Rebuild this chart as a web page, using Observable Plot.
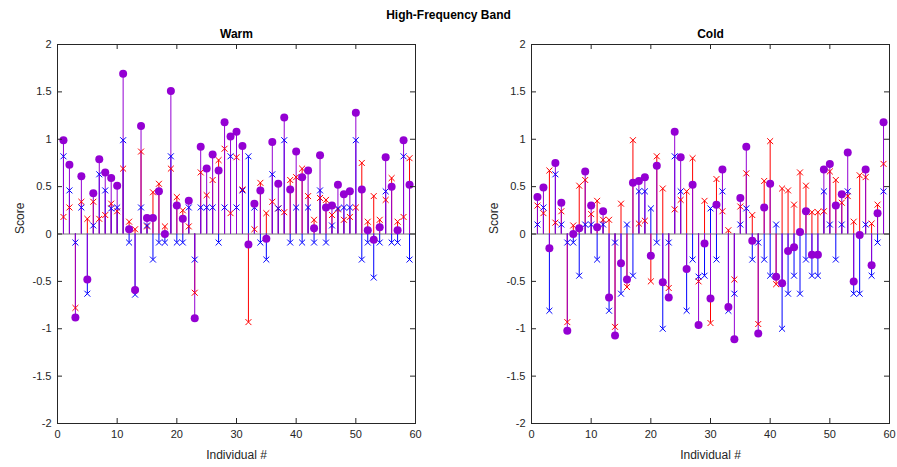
<!DOCTYPE html>
<html><head><meta charset="utf-8">
<script src="https://cdn.jsdelivr.net/npm/d3@7"></script>
<script src="https://cdn.jsdelivr.net/npm/@observablehq/plot@0.6"></script>
<style>
body{margin:0;background:#fff;font-family:"Liberation Sans",Arial,sans-serif;}
#fig{position:relative;width:897px;height:467px;overflow:hidden;}
#title{position:absolute;top:8px;left:0;width:897px;text-align:center;font-weight:bold;font-size:12px;color:#000;line-height:14px;}
#left{position:absolute;left:0;top:0;}
#right{position:absolute;left:448px;top:0;}
</style></head><body>
<div id="fig"><div id="left"></div><div id="right"></div><div id="title">High-Frequency Band</div></div>
<script>
const individuals = d3.range(1, 60);
const xTicks = [0, 10, 20, 30, 40, 50, 60];
const yTicks = [-2, -1.5, -1, -0.5, 0, 0.5, 1, 1.5, 2];

const warmRed = [0.18,0.28,-0.78,0.34,0.16,0.34,0.16,0.20,0.32,0.24,0.69,0.13,0.05,0.87,0.08,0.44,0.53,0.08,0.69,0.39,0.25,0.08,-0.62,0.65,0.41,0.57,0.78,0.90,0.22,0.81,0.47,-0.93,0.05,0.54,0.22,0.34,0.27,0.23,0.57,0.60,0.69,0.40,0.15,0.38,0.36,0.20,0.26,0.15,0.18,0.28,0.75,0.13,0.40,0.15,0.36,0.59,0.13,0.18,0.80];
const warmBlue = [0.82,0.46,-0.09,0.28,-0.63,0.09,0.63,0.46,0.27,0.28,0.99,-0.09,-0.64,0.28,0.09,-0.27,-0.09,-0.09,0.82,-0.09,-0.09,0.28,-0.27,0.28,0.28,0.28,-0.09,0.28,0.82,0.28,0.46,0.82,0.28,-0.09,-0.27,0.63,0.27,0.99,-0.09,0.28,-0.09,0.28,-0.09,0.46,-0.09,0.09,0.27,0.28,0.28,0.99,-0.27,-0.09,-0.46,-0.09,0.45,-0.09,-0.09,0.82,-0.27];
const warmPurple = [0.99,0.73,-0.88,0.61,-0.48,0.43,0.79,0.65,0.59,0.51,1.69,0.05,-0.59,1.14,0.17,0.17,0.45,0.00,1.51,0.30,0.16,0.35,-0.89,0.92,0.69,0.84,0.67,1.18,1.03,1.08,0.93,-0.11,0.32,0.46,-0.05,0.97,0.53,1.23,0.47,0.87,0.60,0.67,0.06,0.83,0.28,0.30,0.52,0.42,0.45,1.28,0.47,0.04,-0.06,0.07,0.81,0.50,0.04,0.99,0.52];

const coldRed = [0.30,0.22,0.67,0.12,0.24,-0.93,0.09,0.51,0.57,0.21,0.35,0.15,0.15,-0.98,0.32,-0.56,0.99,0.11,0.14,-0.50,0.82,0.48,-0.57,0.26,0.36,0.45,0.80,-0.50,0.35,-0.94,0.58,0.24,0.04,-0.48,0.29,0.64,0.20,-0.95,0.56,0.98,-0.53,0.48,0.46,0.31,0.65,0.51,0.23,0.23,0.24,0.66,0.57,0.33,0.40,0.13,0.62,0.60,0.11,0.31,0.74];
const coldBlue = [0.10,0.28,-0.81,0.63,0.10,-0.09,-0.09,-0.44,0.10,0.10,-0.27,0.10,-0.81,-0.09,-0.63,0.10,-0.44,0.45,0.45,0.27,-0.09,-1.00,-0.09,0.82,0.45,-0.81,-0.27,-0.45,-0.44,0.27,-0.27,0.45,-0.81,-0.63,0.10,0.27,-0.27,-0.09,-0.27,-0.44,0.10,-1.00,-0.63,-0.44,-0.63,-0.27,-0.44,-0.44,0.45,0.10,-0.27,0.10,0.45,-0.63,-0.63,0.10,-0.44,-0.09,0.45];
const coldPurple = [0.39,0.49,-0.15,0.75,0.33,-1.02,0.00,0.06,0.66,0.30,0.07,0.24,-0.67,-1.07,-0.31,-0.48,0.54,0.56,0.60,-0.23,0.72,-0.51,-0.67,1.08,0.81,-0.37,0.52,-0.96,-0.10,-0.68,0.31,0.68,-0.77,-1.11,0.38,0.92,-0.07,-1.05,0.28,0.53,-0.45,-0.52,-0.18,-0.14,0.02,0.24,-0.22,-0.22,0.68,0.74,0.30,0.42,0.86,-0.50,-0.01,0.68,-0.33,0.22,1.18];

const RED = "#ff0000", BLUE = "#0000ff", PURPLE = "#9400d3", INK = "#262626";
const H = 467, MT = 44, MB = 44;

function panel(title, red, blue, purple, width, marginLeft, marginRight) {
  const rows = individuals.map((i, k) => ({i, red: red[k], blue: blue[k], purple: purple[k]}));
  const innerW = width - marginLeft - marginRight;
  const innerH = H - MT - MB;
  return Plot.plot({
    width, height: H, marginTop: MT, marginBottom: MB, marginLeft, marginRight,
    style: {fontFamily: "'Liberation Sans', Arial, sans-serif", fontSize: "11px", color: INK, background: "transparent"},
    x: {domain: [0, 60], label: null},
    y: {domain: [-2, 2], label: null},
    marks: [
      Plot.ruleY([0], {stroke: "#777", strokeWidth: 1}),
      Plot.ruleX(rows, {x: "i", y1: () => 0, y2: "red", stroke: RED, strokeWidth: 1}),
      Plot.ruleX(rows, {x: "i", y1: () => 0, y2: "blue", stroke: BLUE, strokeWidth: 1}),
      Plot.ruleX(rows, {x: "i", y1: () => 0, y2: "purple", stroke: PURPLE, strokeWidth: 1}),
      Plot.dot(rows, {x: "i", y: "red", symbol: "times", r: 2.8, stroke: RED, strokeWidth: 1}),
      Plot.dot(rows, {x: "i", y: "blue", symbol: "times", r: 2.8, stroke: BLUE, strokeWidth: 1}),
      Plot.dot(rows, {x: "i", y: "purple", r: 4, fill: PURPLE, stroke: "none"}),
      Plot.frame({stroke: INK, strokeWidth: 1}),
      Plot.tickX(xTicks, {x: d => d, insetTop: innerH - 5, stroke: INK}),
      Plot.tickX(xTicks, {x: d => d, insetBottom: innerH - 5, stroke: INK}),
      Plot.tickY(yTicks, {y: d => d, insetRight: innerW - 5, stroke: INK}),
      Plot.tickY(yTicks, {y: d => d, insetLeft: innerW - 5, stroke: INK}),
      Plot.axisX({ticks: xTicks, tickSize: 0, tickPadding: 7, tickFormat: d => String(d), label: null}),
      Plot.axisY({ticks: yTicks, tickSize: 0, tickPadding: 6, tickFormat: d => String(d), label: null}),
      Plot.text([title], {text: d => d, frameAnchor: "top", lineAnchor: "middle", dy: -10, fontWeight: "bold", fontSize: 12, fill: "#000"}),
      Plot.text(["Individual #"], {text: d => d, frameAnchor: "bottom", lineAnchor: "middle", dy: 32, fontSize: 12, fill: INK}),
      Plot.text(["Score"], {text: d => d, frameAnchor: "left", rotate: -90, lineAnchor: "middle", dx: -37, fontSize: 12, fill: INK})
    ]
  });
}

document.getElementById("left").appendChild(panel("Warm", warmRed, warmBlue, warmPurple, 448, 57, 33));
document.getElementById("right").appendChild(panel("Cold", coldRed, coldBlue, coldPurple, 449, 83, 8));
</script>
</body></html>
